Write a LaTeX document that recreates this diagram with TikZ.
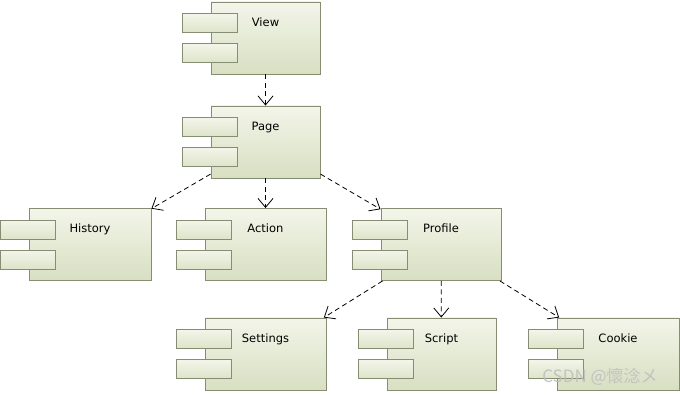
\documentclass[tikz,border=0pt]{standalone}
\usepackage{fontspec}
\setmainfont{DejaVu Sans}
\newfontfamily\cjkwm{Noto Sans CJK SC}
\usetikzlibrary{arrows.meta,calc}
\definecolor{boxline}{HTML}{858D73}
\definecolor{boxtop}{HTML}{F3F5E9}
\definecolor{boxbot}{HTML}{D8DFC2}
\tikzset{
  x=1pt,y=-1pt,
  mainbox/.style={draw=boxline, line width=0.9pt, rectangle, inner sep=0pt,
    minimum height=72pt, top color=boxtop, bottom color=boxbot},
  portbox/.style={draw=boxline, line width=0.9pt, rectangle, inner sep=0pt,
    minimum width=55pt, minimum height=19pt, top color=boxtop, bottom color=boxbot!80!boxtop},
  lbl/.style={font=\fontsize{11.5}{13}\selectfont, inner sep=0pt, anchor=base},
  dep/.style={draw=black, line width=0.8pt, dash pattern=on 5pt off 3.5pt,
    -{Straight Barb[length=9pt,width=15pt,line width=0.8pt]}}
}
\newcommand\compo[5]{%
  \node[mainbox, minimum width=#4pt] (#1) at (#2,#3) {};
  \node[portbox] (#1-p1) at ($(#1.north west)+(-0.5,21.5)$) {};
  \node[portbox] (#1-p2) at ($(#1.north west)+(-0.5,51.5)$) {};
  \node[lbl] (#1-t) at ($(#1.north)+(0,24.5)$) {#5};
}
\begin{document}
\begin{tikzpicture}
\useasboundingbox (0,0) rectangle (680,395);
\fill[white] (0,0) rectangle (680,395);
\compo{view}{265.5}{38}{109}{View}
\compo{page}{265.5}{142}{109}{Page}
\compo{history}{90}{244.5}{122}{History}
\compo{action}{265.5}{244.5}{121}{Action}
\compo{profile}{441}{244.5}{120}{Profile}
\compo{settings}{265.5}{354}{121}{Settings}
\compo{script}{441.5}{354}{109}{Script}
\compo{cookie}{618}{354}{122}{Cookie}
\draw[dep] (view) -- (page);
\draw[dep] (page) -- (history);
\draw[dep] (page) -- (action);
\draw[dep] (page) -- (profile);
\draw[dep] (profile) -- (settings);
\draw[dep] (profile) -- (script);
\draw[dep] (profile) -- (cookie);
\node[font=\cjkwm\fontsize{17}{19}\selectfont, text=gray!50, opacity=0.9, inner sep=0pt] (wm) at (600,377) {CSDN @懷淰メ};
\end{tikzpicture}
\end{document}
